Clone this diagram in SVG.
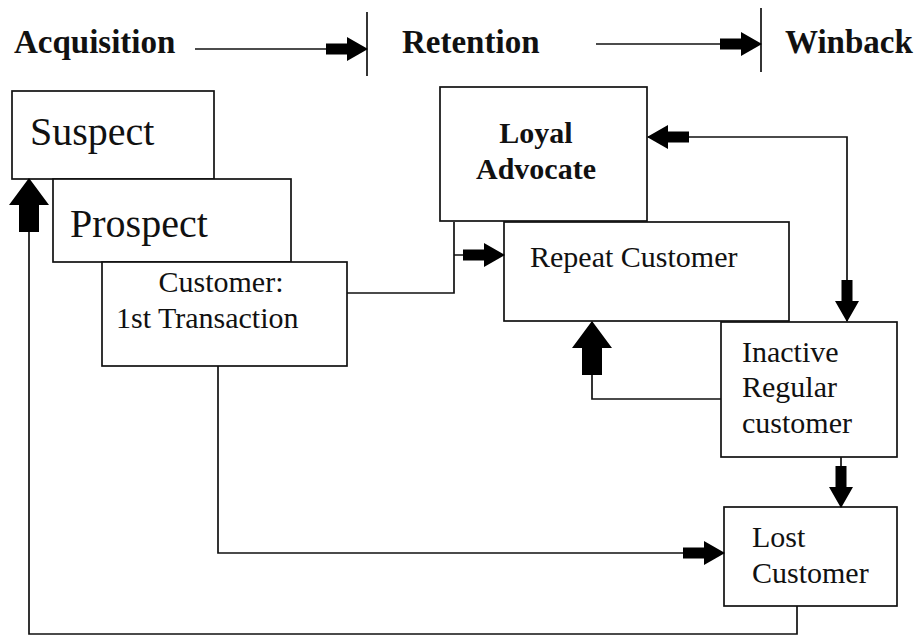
<svg xmlns="http://www.w3.org/2000/svg" width="921" height="637" viewBox="0 0 921 637">
  <style>
    .box { fill: #fff; stroke: #111; stroke-width: 1.7; }
    .wire { fill: none; stroke: #111; stroke-width: 1.7; }
    .lbl { font-family: "Liberation Serif", "Times New Roman", serif; fill: #111; }
    .hdr { font-family: "Liberation Serif", "Times New Roman", serif; font-weight: bold; font-size: 33px; fill: #111; }
    .big { font-size: 40px; }
    .mid { font-size: 30px; }
    .bold { font-weight: bold; }
  </style>
  <defs>
    <!-- block arrowhead: thick shaft + head, tip at the path end -->
    <marker id="block" viewBox="0 0 42 24" refX="41" refY="12" markerWidth="42" markerHeight="24" markerUnits="userSpaceOnUse" orient="auto-start-reverse">
      <path d="M0,6.5 H21 V0 L42,12 L21,24 V17.5 H0 Z" fill="#000"/>
    </marker>
    <marker id="blockLg" viewBox="0 0 54 40" refX="53" refY="20" markerWidth="54" markerHeight="40" markerUnits="userSpaceOnUse" orient="auto-start-reverse">
      <path d="M0,10 H27 V0 L54,20 L27,40 V30 H0 Z" fill="#000"/>
    </marker>
  </defs>

  <!-- stage headings -->
  <g id="stages">
    <text class="hdr" x="14" y="53">Acquisition</text>
    <text class="hdr" x="402" y="53">Retention</text>
    <text class="hdr" x="785" y="53">Winback</text>
    <line class="wire" x1="367" y1="12" x2="367" y2="76"/>
    <line class="wire" x1="761" y1="8" x2="761" y2="72"/>
  </g>

  <!-- nodes -->
  <g id="suspect">
    <rect class="box" x="12" y="91" width="202" height="88"/>
    <text class="lbl big" x="30" y="145">Suspect</text>
  </g>
  <g id="prospect">
    <rect class="box" x="53" y="179" width="238" height="83"/>
    <text class="lbl big" x="70" y="237">Prospect</text>
  </g>
  <g id="first-transaction">
    <rect class="box" x="102" y="262" width="245" height="104"/>
    <text class="lbl mid" x="221" y="292" text-anchor="middle">Customer:</text>
    <text class="lbl mid" x="116" y="328">1st Transaction</text>
  </g>
  <g id="loyal-advocate">
    <rect class="box" x="440" y="87" width="207" height="134"/>
    <text class="lbl mid bold" x="536" y="143" text-anchor="middle" font-size="31">Loyal</text>
    <text class="lbl mid bold" x="536" y="179" text-anchor="middle" font-size="31">Advocate</text>
  </g>
  <g id="repeat-customer">
    <rect class="box" x="504" y="222" width="285" height="99"/>
    <text class="lbl mid" x="530" y="267">Repeat Customer</text>
  </g>
  <g id="inactive-regular">
    <rect class="box" x="721" y="322" width="176" height="135"/>
    <text class="lbl mid" x="742" y="362">Inactive</text>
    <text class="lbl mid" x="742" y="397">Regular</text>
    <text class="lbl mid" x="742" y="433">customer</text>
  </g>
  <g id="lost-customer">
    <rect class="box" x="724" y="507" width="173" height="99"/>
    <text class="lbl mid" x="752" y="547">Lost</text>
    <text class="lbl mid" x="752" y="583">Customer</text>
  </g>

  <!-- connectors -->
  <g id="connectors">
    <line class="wire" x1="195" y1="49" x2="367" y2="49" marker-end="url(#block)"/>
    <line class="wire" x1="596" y1="44" x2="761" y2="44" marker-end="url(#block)"/>
    <polyline class="wire" points="347,293 454,293 454,222"/>
    <line class="wire" x1="454" y1="255" x2="504" y2="255" marker-end="url(#block)"/>
    <polyline class="wire" points="648,137 847,137 847,321" marker-start="url(#block)" marker-end="url(#block)"/>
    <polyline class="wire" points="721,399 592,399 592,322" marker-end="url(#blockLg)"/>
    <line class="wire" x1="841" y1="457" x2="841" y2="507" marker-end="url(#block)"/>
    <polyline class="wire" points="218,366 218,553 724,553" marker-end="url(#block)"/>
    <polyline class="wire" points="797,606 797,634 29,634 29,179" marker-end="url(#blockLg)"/>
  </g>
</svg>
